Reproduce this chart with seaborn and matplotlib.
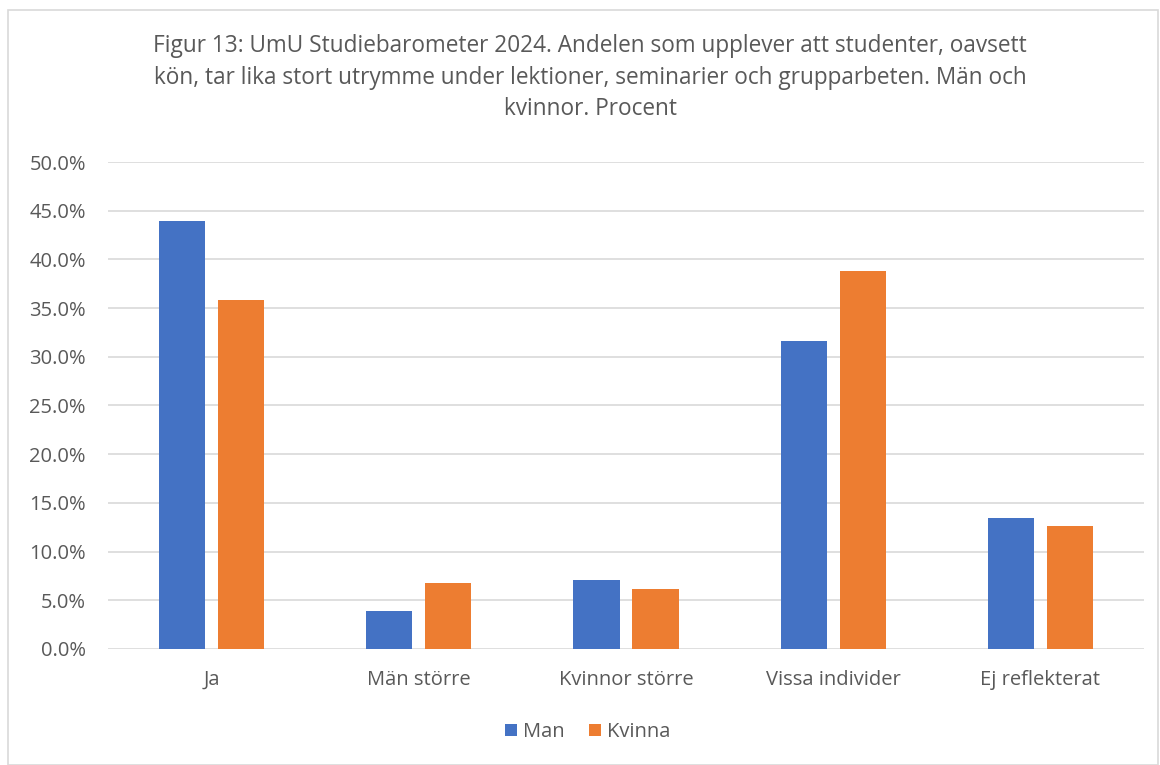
import matplotlib
matplotlib.use("Agg")
import matplotlib.pyplot as plt
import seaborn as sns
import pandas as pd
from matplotlib.patches import Rectangle
from matplotlib.ticker import PercentFormatter, MultipleLocator

categories = ["Ja", "Män större", "Kvinnor större", "Vissa individer", "Ej reflekterat"]
man = [43.9, 3.9, 7.1, 31.6, 13.5]
kvinna = [35.8, 6.8, 6.2, 38.8, 12.6]
series = ["Man", "Kvinna"]
colors = ["#4472C4", "#ED7D31"]
title = ("Figur 13: UmU Studiebarometer 2024. Andelen som upplever att studenter, oavsett\n"
         "kön, tar lika stort utrymme under lektioner, seminarier och grupparbeten. Män och\n"
         "kvinnor. Procent")

df = pd.DataFrame({
    "Kategori": categories * 2,
    "Kön": [series[0]] * len(categories) + [series[1]] * len(categories),
    "Andel": [v / 100 for v in man + kvinna],
})

sns.set_theme(style="white")
plt.rcParams['font.family'] = ['Open Sans', 'DejaVu Sans']
txt = "#595959"

fig = plt.figure(figsize=(11.6, 7.65), dpi=100)
ax = fig.add_axes([108/1160, 1 - 649/765, (1144-108)/1160, (649-162)/765])

sns.barplot(data=df, x="Kategori", y="Andel", hue="Kön", palette=colors,
            width=0.57, gap=0.22, ax=ax, saturation=1, legend=True, linewidth=0)

ax.set_ylim(0, 0.5)
ax.yaxis.set_major_locator(MultipleLocator(0.05))
ax.yaxis.set_major_formatter(PercentFormatter(1.0, decimals=1))
ax.grid(axis="y", color="#D9D9D9", linewidth=1.2)
ax.set_axisbelow(True)
for s in ax.spines.values():
    s.set_visible(False)
ax.set_xlabel("")
ax.set_ylabel("")
ax.tick_params(axis="both", colors=txt, labelsize=14.5, length=0)
ax.tick_params(axis="y", pad=16)
ax.tick_params(axis="x", pad=15)
for lab in ax.get_xticklabels() + ax.get_yticklabels():
    lab.set_color(txt)

leg = ax.legend(loc="center", bbox_to_anchor=(588/1160, 1 - 732/765), bbox_transform=fig.transFigure,
                ncol=2, frameon=False, fontsize=14.5, handlelength=0.6, handleheight=0.6,
                handletextpad=0.3, columnspacing=1.2)
for t in leg.get_texts():
    t.set_color(txt)

fig.text(590/1160, 1 - 34/765, title, ha="center", va="top", fontsize=16.3,
         color=txt, linespacing=1.42)

fig.patches.append(Rectangle((8/1160, 0), (1158-8)/1160, 1 - 10/765,
                             transform=fig.transFigure, fill=False,
                             edgecolor="#D9D9D9", linewidth=1.2))

fig.savefig("out.png", dpi=100)
